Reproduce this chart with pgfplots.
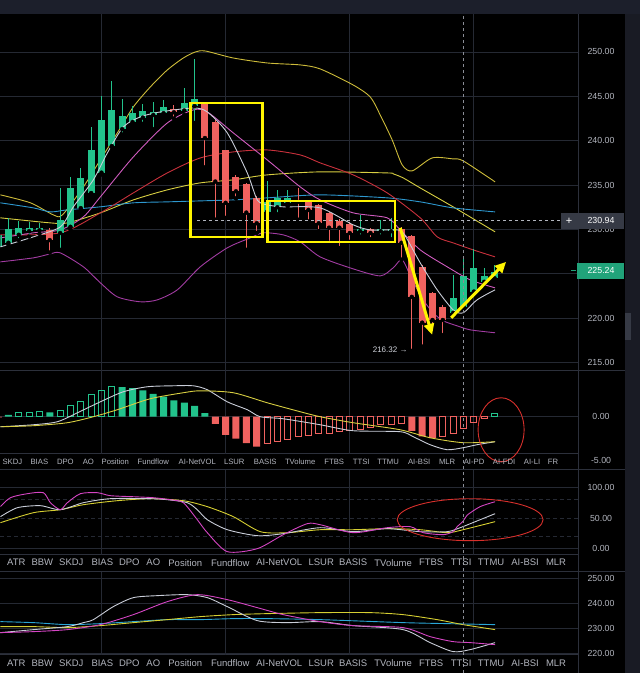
\documentclass[border=0pt]{standalone}
\usepackage{fontspec}
\setmainfont{Liberation Sans}
\usepackage{pgfplots}
\usepackage{pgfplotstable}
\pgfplotsset{compat=1.18}
\usetikzlibrary{arrows.meta}

\definecolor{hdr}{HTML}{1C1F2B}
\definecolor{strip}{HTML}{191B24}
\definecolor{gridc}{HTML}{252933}
\definecolor{sepc}{HTML}{2C303B}
\definecolor{tickc}{HTML}{B2B5BE}
\definecolor{crossc}{HTML}{8A8D96}
\definecolor{lowc}{HTML}{D1D4DC}
\definecolor{cgreen}{HTML}{22C38C}
\definecolor{cred}{HTML}{F0625F}
\definecolor{ubc}{HTML}{CDBB3A}
\definecolor{ma2}{HTML}{D8CF42}
\definecolor{mared}{HTML}{C9313C}
\definecolor{mablue}{HTML}{2E98CF}
\definecolor{lbc}{HTML}{A23CA2}
\definecolor{mapink}{HTML}{CF5BBE}
\definecolor{mawhite}{HTML}{C9CDD8}
\definecolor{oscm}{HTML}{D545C4}
\definecolor{oscy}{HTML}{D6CF32}
\definecolor{cyanl}{HTML}{2AA6D6}
\definecolor{annY}{HTML}{FFF500}
\definecolor{annR}{HTML}{D8302C}
\definecolor{pbox}{HTML}{363A45}
\definecolor{gbox}{HTML}{21A37A}

\pgfplotstableread{
x o h l c
-1 228.0 230.5 227.5 229.4
0 228.5 231.3 228.3 230.1
1 229.4 230.9 228.8 230.2
2 229.8 230.8 229.2 230.2
3 229.9 230.7 229.5 230.2
5 229.6 234.7 227.7 231.1
6 230.3 235.9 230.0 234.7
7 232.4 236.9 232.2 235.8
8 234.1 241.6 234.0 239.0
9 236.4 245.0 236.2 242.3
10 239.4 246.7 239.3 243.5
11 241.3 244.7 240.7 242.8
12 242.1 243.9 241.7 243.1
13 242.6 244.1 241.9 243.4
14 242.9 244.4 241.3 243.2
15 243.1 244.6 242.9 243.8
17 243.4 245.9 242.9 244.3
18 243.9 249.2 242.0 244.7
25 232.0 235.5 231.8 233.1
26 232.5 234.5 231.7 233.6
27 233.0 234.5 232.6 233.6
34 229.8 231.6 229.2 230.0
36 229.8 231.1 229.2 230.0
37 229.8 231.3 228.9 230.1
43 220.6 224.9 220.4 222.3
44 221.3 226.7 221.1 224.7
45 223.0 227.8 222.8 225.7
46 224.1 225.7 223.9 224.8
47 224.5 226.0 224.3 225.24
}\greenc

\pgfplotstableread{
x o h l c
4 229.9 230.2 227.4 228.8
16 243.6 244.0 242.5 243.2
19 244.1 244.4 237.0 240.3
20 242.1 242.3 231.1 235.4
21 238.9 239.0 231.3 233.0
22 235.9 236.1 233.5 234.3
23 235.1 235.2 227.7 231.9
24 233.6 233.8 229.6 230.7
28 233.3 234.7 231.1 233.1
29 233.1 233.3 230.9 232.2
30 232.8 232.9 229.8 230.7
31 231.9 232.0 228.5 230.2
32 231.0 231.2 227.9 230.2
33 230.6 230.8 228.6 229.6
35 230.0 230.2 228.9 229.6
38 230.0 230.3 226.6 228.5
39 229.3 229.4 216.32 222.4
40 225.8 226.0 216.8 219.5
41 222.8 223.0 218.4 219.8
42 221.3 221.5 218.1 219.8
}\redc

\pgfplotsset{
 panel/.style={
  scale only axis, width=578bp, anchor=south west,
  xmin=-0.773, xmax=55.07,
  axis line style={draw=none}, major tick length=0pt, tick style={draw=none},
  xtick=\empty, ymajorgrids,
  major grid style={gridc, line width=0.8bp},
  yticklabel pos=right,
  yticklabel style={font=\fontsize{8.8bp}{10bp}\selectfont, text=tickc, anchor=center, xshift=23bp},
 },
 ln/.style={line width=0.9bp, smooth, tension=0.45},
 wick/.style={only marks, mark=none, forget plot, error bars/.cd, y dir=plus, y explicit, error mark=none, error bar style={line width=1bp, draw=#1}},
 body/.style={only marks, mark=none, forget plot, error bars/.cd, y dir=plus, y explicit, error mark=none, error bar style={line width=7bp, draw=#1}},
}

\begin{document}
\begin{tikzpicture}
\begin{scope}[x=1bp,y=1bp]
\useasboundingbox (0,0) rectangle (640,673);
\fill[black] (0,0) rectangle (640,673);
\fill[hdr] (0,659) rectangle (640,673);
\fill[strip] (625,0) rectangle (640,659);
\fill[pbox] (625,333) rectangle (631,360);
% separators
\draw[sepc, line width=0.8bp] (0,302) -- (625,302);
\draw[sepc, line width=0.8bp] (0,219) -- (578,219);
\draw[sepc, line width=0.8bp] (0,203) -- (625,203);
\draw[sepc, line width=0.8bp] (0,118) -- (578,118);
\draw[sepc, line width=0.8bp] (0,101) -- (625,101);
\draw[sepc, line width=0.8bp] (0,18) -- (578,18);
\draw[sepc, line width=0.8bp] (578,0) -- (578,659);
% vertical grid lines
\foreach \gx in {101.15,225.35,349.55,473.75}{
  \draw[gridc, line width=0.8bp] (\gx,302) -- (\gx,659);
  \draw[gridc, line width=0.8bp] (\gx,219) -- (\gx,302);
  \draw[gridc, line width=0.8bp] (\gx,118) -- (\gx,203);
  \draw[gridc, line width=0.8bp] (\gx,18) -- (\gx,101);
}
\end{scope}

% ===== main price panel =====
\begin{axis}[panel, at={(0bp,303bp)}, height=356bp, ymin=214.19, ymax=254.28,
  ytick={215,220,225,230,235,240,245,250},
  yticklabels={215.00,220.00,{},230.00,235.00,240.00,245.00,250.00}]
\addplot[ln, ubc] coordinates {(-0.77,233.90) (2.13,233.00) (4.35,231.64) (5.22,231.64) (7.25,234.80) (8.89,237.84) (10.53,240.88) (12.08,243.81) (13.72,246.06) (15.36,247.97) (16.91,249.32) (18.07,250.00) (19.03,250.11) (21.74,249.32) (25.02,248.76) (28.21,248.54) (30.14,248.09) (33.33,246.28) (34.98,244.93) (35.94,242.91) (37.10,240.09) (38.07,237.27) (39.03,236.60) (40.97,238.06) (42.99,237.95) (43.96,237.73) (47.05,235.36)};
\addplot[ln, ma2] coordinates {(-0.77,231.31) (4.06,230.74) (5.70,230.74) (8.89,231.87) (12.08,233.33) (15.36,234.46) (18.55,235.25) (21.74,235.59) (25.02,236.15) (30.14,236.49) (36.62,236.37) (37.20,236.26) (38.16,235.81) (39.81,234.68) (42.99,232.55) (47.05,229.73)};
\addplot[ln, mablue] coordinates {(-0.77,233.00) (2.42,232.43) (4.06,231.98) (5.70,232.21) (8.89,232.55) (12.08,233.00) (15.36,233.11) (18.55,233.22) (21.74,233.33) (25.02,233.56) (30.14,233.90) (36.62,233.56) (39.81,233.11) (42.99,232.43) (47.05,231.98)};
\addplot[ln, mared] coordinates {(-0.77,229.39) (5.02,229.62) (8.89,231.87) (12.08,234.12) (15.36,236.37) (18.55,238.06) (21.74,238.74) (25.02,238.96) (28.21,238.40) (30.14,237.50) (33.33,236.15) (36.62,234.12) (39.81,231.31) (41.45,229.17) (42.99,228.49) (44.93,227.70) (47.05,226.91)};
\addplot[ln, lbc] coordinates {(-0.77,226.35) (2.42,226.80) (4.06,227.25) (5.02,227.36) (7.25,225.79) (8.89,223.99) (10.53,222.41) (12.75,221.85) (14.40,222.07) (16.33,223.20) (18.55,225.79) (21.16,227.93) (23.38,229.05) (24.64,229.62) (26.57,229.39) (28.21,228.60) (30.14,226.91) (33.33,225.56) (35.94,224.77) (37.20,225.68) (38.07,226.58) (39.03,224.32) (40.10,222.07) (41.06,220.61) (42.03,219.71) (43.38,219.14) (44.64,218.69) (47.05,218.36)};
\addplot[ln, mapink] coordinates {(-0.77,229.05) (2.42,229.62) (5.02,229.95) (7.25,231.42) (8.89,233.67) (12.08,238.18) (15.36,242.00) (17.87,243.47) (19.23,243.24) (21.74,240.88) (25.02,237.84) (28.21,234.80) (30.14,233.33) (33.33,231.87) (36.62,231.31) (37.87,229.95) (39.81,227.70) (42.42,225.79) (44.64,224.32) (47.05,223.42)};
% candles
\addplot[wick=cgreen] table[x=x, y=l, y error expr=\thisrow{h}-\thisrow{l}] {\greenc};
\addplot[wick=cred] table[x=x, y=l, y error expr=\thisrow{h}-\thisrow{l}] {\redc};
\addplot[body=cgreen] table[x=x, y=o, y error expr=\thisrow{c}-\thisrow{o}] {\greenc};
\addplot[body=cred] table[x=x, y=c, y error expr=\thisrow{o}-\thisrow{c}] {\redc};
\addplot[ln, mawhite] coordinates {(-0.77,228.04) (2.42,229.17) (5.02,230.29) (6.28,232.55) (8.21,235.59) (9.57,238.63) (11.11,241.55) (12.75,242.68) (14.69,243.24) (17.87,243.69) (19.23,243.24) (21.16,240.88) (23.09,236.37) (24.06,233.33) (25.02,232.77) (26.57,232.55) (30.14,232.43) (33.33,230.52) (34.98,229.95) (37.20,229.95) (38.16,229.62) (39.81,226.24) (41.45,223.20) (42.99,220.95) (43.96,220.61) (45.31,222.07) (47.05,223.20)};
\end{axis}

% ===== MACD panel =====
\begin{axis}[panel, at={(0bp,203bp)}, height=98bp, ymin=-6.023, ymax=5.114,
  ytick={0}, yticklabels={0.00},
  extra y ticks={-5}, extra y tick labels={-5.00}, extra y tick style={grid=none}]
\addplot[ybar, bar shift=0pt, bar width=7bp, fill=cgreen, draw=none] coordinates {(0,0.2) (4,0.5) (11,3.37) (12,3.26) (13,3.0) (14,2.6) (15,2.3) (16,1.85) (17,1.6) (18,1.25) (19,0.42)};
\addplot[ybar, bar shift=0pt, bar width=6bp, fill=none, draw=cgreen, line width=1bp] coordinates {(1,0.45) (2,0.5) (3,0.57) (5,0.72) (6,1.25) (7,1.7) (8,2.5) (9,3.0) (10,3.4) (47,0.35)};
\addplot[ybar, bar shift=0pt, bar width=7bp, fill=cred, draw=none] coordinates {(-1,-0.1) (20,-0.8) (21,-2.05) (22,-2.5) (23,-3.0) (24,-3.4) (39,-1.6) (40,-2.23) (41,-2.42)};
\addplot[ybar, bar shift=0pt, bar width=6bp, fill=none, draw=cred, line width=1bp] coordinates {(25,-3.07) (26,-2.8) (27,-2.6) (28,-2.2) (29,-2.1) (30,-1.95) (31,-1.86) (32,-1.67) (33,-1.6) (34,-1.48) (35,-1.21) (36,-0.91) (37,-0.83) (38,-0.80) (42,-2.23) (43,-1.93) (44,-1.29) (45,-0.61) (46,-0.15)};
\addplot[ln, mawhite] coordinates {(-0.77,-1.14) (2.42,-0.91) (4.73,-0.57) (6.67,0.45) (8.89,1.70) (11.11,2.84) (13.43,3.41) (15.94,3.52) (17.87,3.52) (19.23,3.07) (21.16,1.70) (23.09,0.80) (24.35,0) (26.57,-0.23) (30.14,-0.91) (33.33,-1.59) (37.87,-1.70) (39.13,-2.27) (40.77,-3.18) (42.42,-3.75) (43.96,-3.52) (45.31,-3.18) (47.05,-2.84)};
\addplot[ln, ma2] coordinates {(-0.77,-1.14) (2.42,-1.02) (5.70,-0.68) (8.21,0) (10.53,0.80) (13.72,2.05) (16.91,2.73) (18.55,2.95) (21.74,2.73) (25.02,1.59) (28.21,0.57) (30.14,0) (33.33,-0.68) (37.87,-1.48) (40.77,-2.39) (43.96,-2.95) (47.05,-2.84)};
\end{axis}

% ===== oscillator panel =====
\begin{axis}[panel, at={(0bp,118bp)}, height=85bp, ymin=-9.84, ymax=129.5,
  ytick={0,100}, yticklabels={0.00,100.00},
  extra y ticks={20,50,80}, extra y tick labels={{},50.00,{}},
  extra y tick style={major grid style={gridc, line width=0.8bp, dash pattern=on 4bp off 3bp}}]
\addplot[ln, oscy] coordinates {(-0.77,42.6) (2.42,59.0) (5.02,63.9) (7.25,72.1) (10.53,78.7) (13.72,82.0) (16.91,78.7) (19.23,68.9) (21.74,52.5) (24.35,27.9) (26.96,26.2) (30.14,31.1) (33.33,31.1) (36.62,32.8) (39.81,31.1) (42.42,26.2) (43.96,31.1) (47.05,44.3)};
\addplot[ln, mawhite] coordinates {(-0.77,52.5) (0.87,67.2) (3.09,70.5) (5.02,63.9) (7.25,75.4) (9.86,82.0) (13.72,82.0) (15.36,80.3) (17.29,75.4) (18.26,63.9) (19.23,47.5) (21.16,31.1) (24.06,21.3) (26.57,24.6) (30.14,34.4) (33.33,27.9) (36.62,32.8) (39.81,27.9) (42.42,27.9) (43.67,34.4) (45.60,47.5) (47.05,57.4)};
\addplot[ln, oscm] coordinates {(-0.77,68.9) (0.19,83.6) (1.84,90.2) (3.38,91.8) (4.06,75.4) (5.02,63.9) (5.70,75.4) (6.96,90.2) (8.60,91.8) (9.86,86.9) (12.08,85.2) (14.01,83.6) (15.65,80.3) (16.91,75.4) (18.26,47.5) (19.23,26.2) (21.16,-4.9) (24.06,0) (26.57,23.0) (28.89,41.0) (30.14,39.3) (33.33,26.2) (36.62,34.4) (38.84,36.1) (40.10,26.2) (42.03,23.0) (42.99,27.9) (43.38,36.1) (43.96,45.0) (44.35,55.0) (45.60,68.9) (47.05,77.0)};
\end{axis}

% ===== MA panel =====
\begin{axis}[panel, at={(0bp,18bp)}, height=83bp, ymin=219.6, ymax=252.8,
  ytick={220,230,240,250}, yticklabels={220.00,230.00,240.00,250.00}]
\addplot[ln, cyanl] coordinates {(-0.77,232.8) (2.42,232.4) (5.70,231.6) (8.89,232.0) (12.08,232.8) (15.36,233.6) (18.55,233.6) (21.74,234.0) (25.02,234.0) (30.14,233.6) (38.16,232.4) (42.42,232.0) (47.05,231.6)};
\addplot[ln, oscy] coordinates {(-0.77,230.8) (2.42,230.8) (5.70,230.4) (8.89,231.2) (12.08,232.4) (15.36,233.6) (18.55,234.8) (21.74,235.6) (25.02,236.0) (30.14,236.4) (34.98,236.4) (38.16,235.6) (41.45,233.6) (43.96,231.6) (47.05,229.6)};
\addplot[ln, mawhite] coordinates {(-0.77,228.4) (2.42,229.6) (5.70,230.8) (7.25,232.4) (8.21,233.6) (10.14,238.8) (12.08,242.4) (14.40,243.2) (17.29,243.6) (19.23,242.4) (21.16,238.8) (24.06,233.2) (26.96,232.4) (30.14,232.8) (33.33,231.2) (38.16,229.6) (40.77,224.4) (42.99,220.8) (44.64,221.6) (47.05,224.4)};
\addplot[ln, oscm] coordinates {(-0.77,228.4) (2.42,228.8) (5.70,229.6) (8.89,231.6) (12.08,235.6) (15.36,240.8) (18.26,243.6) (21.16,241.6) (24.06,238.4) (26.57,235.6) (30.14,232.8) (33.33,231.2) (38.16,230.4) (40.77,226.8) (42.99,224.8) (44.64,224.4) (47.05,223.6)};
\end{axis}

\begin{scope}[x=1bp,y=1bp]
% crosshair and price line
\draw[crossc, line width=0.8bp, dash pattern=on 3bp off 3bp] (463,0) -- (463,659);
\draw[tickc, line width=0.8bp, dash pattern=on 3bp off 3bp] (197,452) -- (561,452);
% price boxes
\fill[pbox] (561,444) rectangle (624,460);
\node[text=white, font=\fontsize{11bp}{12bp}\selectfont] at (569,452) {+};
\node[text=white, font=\fontsize{8.8bp}{10bp}\selectfont] at (601,452) {230.94};
\fill[gbox] (577,394) rectangle (624,410);
\draw[gbox, line width=1bp] (571,402) -- (576,402);
\node[text=white, font=\fontsize{8.8bp}{10bp}\selectfont] at (601,402) {225.24};
\node[text=lowc, font=\fontsize{8bp}{9bp}\selectfont] at (390,323) {216.32 →};
% annotations
\draw[annY, line width=2.6bp] (190,436) rectangle (262,570);
\draw[annY, line width=2.6bp] (267,431) rectangle (395,472);
\draw[annY, line width=3bp, -{Triangle[length=11bp,width=10bp]}] (400,445) -- (432,338);
\draw[annY, line width=3bp, -{Triangle[length=11bp,width=10bp]}] (451,355) -- (506,411);
\draw[annR, line width=0.9bp] (501,243) ellipse [x radius=23, y radius=32];
\draw[annR, line width=0.9bp] (470,153) ellipse [x radius=73, y radius=21];
% tab rows
\begin{scope}[every node/.style={text=tickc, font=\fontsize{7.7bp}{9bp}\selectfont, inner sep=0pt}]
\foreach \t/\xx in {SKDJ/12, BIAS/39, DPO/65, AO/88, Position/115, Fundflow/153, AI-NetVOL/197, LSUR/234, BASIS/265, TVolume/300, FTBS/334, TTSI/361, TTMU/388, AI-BSI/419, MLR/447, AI-PD/474, AI-FDI/504, AI-LI/532, FR/553}
  \node at (\xx,211) {\t};
\end{scope}
\begin{scope}[every node/.style={text=tickc, font=\fontsize{9.5bp}{11bp}\selectfont, inner sep=0pt}]
\foreach \t/\xx in {ATR/16, BBW/42, SKDJ/71, BIAS/102, DPO/129, AO/153, Position/185, Fundflow/230, AI-NetVOL/279, LSUR/321, BASIS/353, TVolume/393, FTBS/431, TTSI/461, TTMU/491, AI-BSI/525, MLR/556}
  {\node at (\xx,110) {\t}; \node at (\xx,9) {\t};}
\end{scope}
\end{scope}
\end{tikzpicture}
\end{document}
